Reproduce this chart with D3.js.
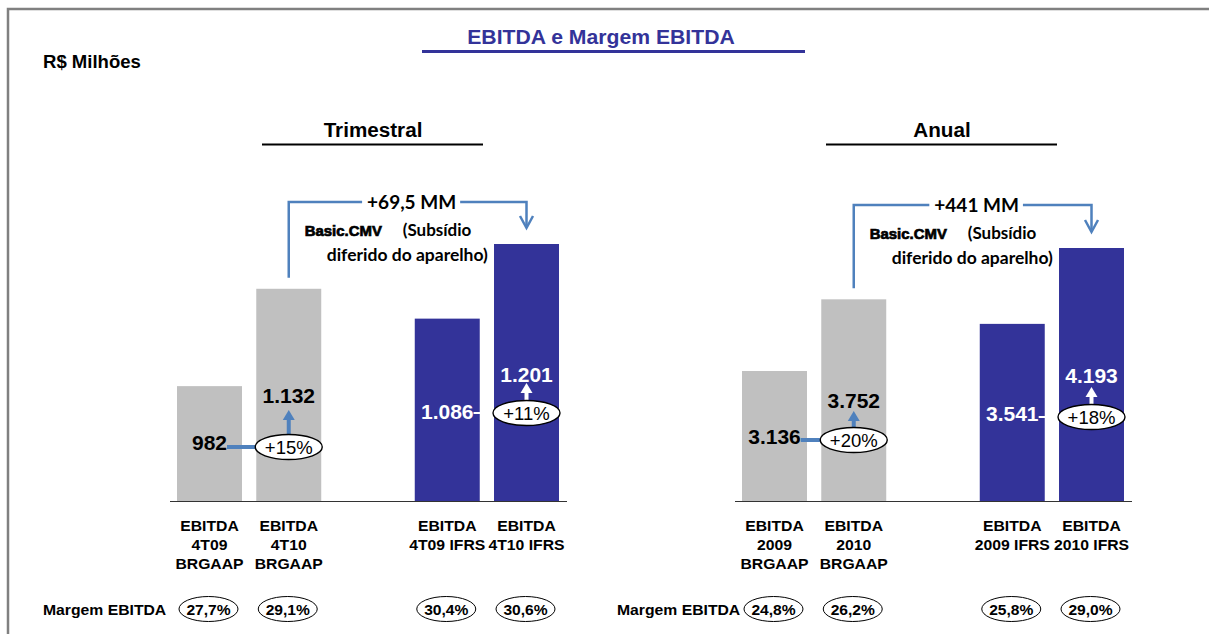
<!DOCTYPE html>
<html lang="pt">
<head>
<meta charset="UTF-8">
<title>EBITDA e Margem EBITDA</title>
<script src="https://d3js.org/d3.v7.min.js"></script>
<style>
  body { margin: 0; background: #fff; }
  text { font-family: "Liberation Sans", Arial, sans-serif; }
</style>
</head>
<body>
<svg id="chart" width="1209" height="634"></svg>
<script>
// ---- data ----
const triCategories = [["EBITDA", "4T09", "BRGAAP"], ["EBITDA", "4T10", "BRGAAP"], ["EBITDA", "4T09 IFRS"], ["EBITDA", "4T10 IFRS"]];
const triValues = [982, 1132, 1086, 1201];
const triLabels = ["982", "1.132", "1.086", "1.201"];
const triMargins = ["27,7%", "29,1%", "30,4%", "30,6%"];
const triGrowth = ["+15%", "+11%"];
const triDelta = "+69,5 MM";

const anoCategories = [["EBITDA", "2009", "BRGAAP"], ["EBITDA", "2010", "BRGAAP"], ["EBITDA", "2009 IFRS"], ["EBITDA", "2010 IFRS"]];
const anoValues = [3136, 3752, 3541, 4193];
const anoLabels = ["3.136", "3.752", "3.541", "4.193"];
const anoMargins = ["24,8%", "26,2%", "25,8%", "29,0%"];
const anoGrowth = ["+20%", "+18%"];
const anoDelta = "+441 MM";

// ---- styles ----
const blue = "#333399";
const gray = "#c0c0c0";
const steel = "#4f81bd";
const baseY = 501;
const calibri = "Lato, 'Open Sans', sans-serif";

const svg = d3.select("#chart");

// text helper, sx stretches horizontally like the original rendering
function label(g, x, y, str, size, opts = {}) {
  const t = g.append("text")
    .attr("transform", `translate(${x},${y}) scale(${opts.sx || 1},1)`)
    .attr("text-anchor", opts.anchor || "middle")
    .style("font-size", size + "px")
    .style("font-weight", opts.weight || "bold")
    .style("fill", opts.fill || "#000")
    .text(str);
  if (opts.family) t.style("font-family", opts.family);
  return t;
}

// frame
svg.append("path")
  .attr("d", "M8,634 V9 H1209")
  .attr("fill", "none")
  .attr("stroke", "#808080")
  .attr("stroke-width", 2.5);

// main title
label(svg, 601, 44, "EBITDA e Margem EBITDA", 20, { sx: 1.06, fill: blue });
svg.append("line")
  .attr("x1", 422).attr("x2", 805).attr("y1", 51.5).attr("y2", 51.5)
  .attr("stroke", blue).attr("stroke-width", 3);

label(svg, 43, 68, "R$ Milhões", 17.5, { sx: 1.06, anchor: "start" });

const panels = [
  {
    title: "Trimestral", categories: triCategories, values: triValues, labels: triLabels,
    margins: triMargins, growth: triGrowth, delta: triDelta,
    left: 177, right: 559, domain: [805, 1201], top: 244, axis: [170, 567],
    titleX: 373, rule: [262, 483], margemX: 43,
    labelY: [442, 395, 411, 374], growthY: [447, 413], tipY: [410, 383], bracketY: 202
  },
  {
    title: "Anual", categories: anoCategories, values: anoValues, labels: anoLabels,
    margins: anoMargins, growth: anoGrowth, delta: anoDelta,
    left: 742, right: 1124, domain: [2019, 4193], top: 248, axis: [735, 1132],
    titleX: 942, rule: [826, 1057], margemX: 617,
    labelY: [436, 400, 413, 375], growthY: [440, 417], tipY: [411, 387], bracketY: 205
  }
];

const slots = ["c0", "c1", "gap", "c2", "c3"];
const barSlots = ["c0", "c1", "c2", "c3"];

panels.forEach(p => {
  const g = svg.append("g");

  const x = d3.scaleBand().domain(slots).range([p.left, p.right]).paddingInner(0.18).paddingOuter(0);
  const y = d3.scaleLinear().domain(p.domain).range([baseY, p.top]);
  const cx = i => x(barSlots[i]) + x.bandwidth() / 2;

  // panel title
  label(g, p.titleX, 137, p.title, 19.5, { sx: 1.06 });
  g.append("line")
    .attr("x1", p.rule[0]).attr("x2", p.rule[1]).attr("y1", 144.5).attr("y2", 144.5)
    .attr("stroke", "#000").attr("stroke-width", 2);

  // bars
  g.selectAll("rect.bar")
    .data(p.values)
    .join("rect")
    .attr("class", "bar")
    .attr("x", (d, i) => x(barSlots[i]))
    .attr("y", d => y(d))
    .attr("width", x.bandwidth())
    .attr("height", d => baseY - y(d))
    .attr("fill", (d, i) => i < 2 ? gray : blue);

  // baseline
  g.append("line")
    .attr("x1", p.axis[0]).attr("x2", p.axis[1]).attr("y1", baseY + 0.5).attr("y2", baseY + 0.5)
    .attr("stroke", "#333").attr("stroke-width", 1.2);

  // growth pairs: connector, ellipse, arrow, value labels
  [0, 1].forEach(k => {
    const a = 2 * k, b = 2 * k + 1;
    const lineColor = k === 0 ? steel : "#fff";
    const ey = p.growthY[k];
    const ex = cx(b);
    const rx = 33.5, ry = 12.5;

    const la = label(g, cx(a), p.labelY[a] + 7.5, p.labels[a], 21, { fill: k === 0 ? "#000" : "#fff" });
    const box = la.node().getBBox();
    const textRight = cx(a) + box.width / 2;

    g.append("line")
      .attr("x1", textRight).attr("x2", ex - rx)
      .attr("y1", ey).attr("y2", ey)
      .attr("stroke", lineColor).attr("stroke-width", k === 0 ? 4 : 2);

    // arrow up
    const eTop = ey - ry, tip = p.tipY[k];
    g.append("line")
      .attr("x1", ex).attr("x2", ex).attr("y1", eTop).attr("y2", tip + 9)
      .attr("stroke", k === 0 ? steel : "#fff").attr("stroke-width", 4);
    g.append("path")
      .attr("d", `M${ex - 6},${tip + 10} L${ex},${tip} L${ex + 6},${tip + 10} Z`)
      .attr("fill", k === 0 ? steel : "#fff");

    g.append("ellipse")
      .attr("cx", ex).attr("cy", ey).attr("rx", rx).attr("ry", ry)
      .attr("fill", "#fff").attr("stroke", "#000").attr("stroke-width", 1.4);
    label(g, ex, ey + 6.5, p.growth[k], 18.5, { weight: "normal" });

    label(g, cx(b), p.labelY[b] + 7.5, p.labels[b], 21, { fill: k === 0 ? "#000" : "#fff" });
  });

  // bracket between 2nd and 4th bars
  const bx1 = cx(1), bx3 = cx(3), by = p.bracketY;
  const dText = label(g, (bx1 + bx3) / 2 + 4, by + 6.5, p.delta, 19, { family: calibri });
  const dw = dText.node().getBBox().width;
  const tl = (bx1 + bx3) / 2 + 4 - dw / 2, tr = (bx1 + bx3) / 2 + 4 + dw / 2;
  const arrowTip = y(p.values[3]) - 16;
  g.append("path")
    .attr("d", `M${bx1},${y(p.values[1]) - 11} V${by} H${tl - 5}`)
    .attr("fill", "none").attr("stroke", steel).attr("stroke-width", 2.5);
  g.append("path")
    .attr("d", `M${tr + 4},${by} H${bx3} V${arrowTip}`)
    .attr("fill", "none").attr("stroke", steel).attr("stroke-width", 2.5);
  g.append("path")
    .attr("d", `M${bx3 - 6.5},${arrowTip - 12} L${bx3},${arrowTip} L${bx3 + 6.5},${arrowTip - 12}`)
    .attr("fill", "none").attr("stroke", steel).attr("stroke-width", 2.5);

  // note text
  label(g, bx1 + 16, by + 34, "Basic.CMV", 14.5, { sx: 1.03, anchor: "start" })
    .style("stroke", "#000").style("stroke-width", 0.7);
  label(g, bx1 + 114, by + 34, "(Subsídio", 17, { anchor: "start", family: calibri });
  label(g, bx1 + 38, by + 59, "diferido do aparelho)", 17.5, { anchor: "start", family: calibri });

  // category labels
  p.categories.forEach((lines, i) => {
    const t = g.append("text")
      .attr("transform", `translate(${cx(i)},530.5) scale(1.05,1)`)
      .attr("text-anchor", "middle")
      .style("font-size", "15px")
      .style("font-weight", "bold");
    lines.forEach((s, j) => {
      t.append("tspan").attr("x", 0).attr("dy", j === 0 ? 0 : 19.5).text(s);
    });
  });

  // margem row
  label(g, p.margemX, 614.5, "Margem EBITDA", 15, { sx: 1.05, anchor: "start" });
  p.margins.forEach((m, i) => {
    g.append("ellipse")
      .attr("cx", cx(i) - 1).attr("cy", 609).attr("rx", 29.5).attr("ry", 12.5)
      .attr("fill", "#fff").attr("stroke", "#000").attr("stroke-width", 1);
    label(g, cx(i) - 1, 614.5, m, 15, { sx: 1.04 });
  });
});
</script>
</body>
</html>
